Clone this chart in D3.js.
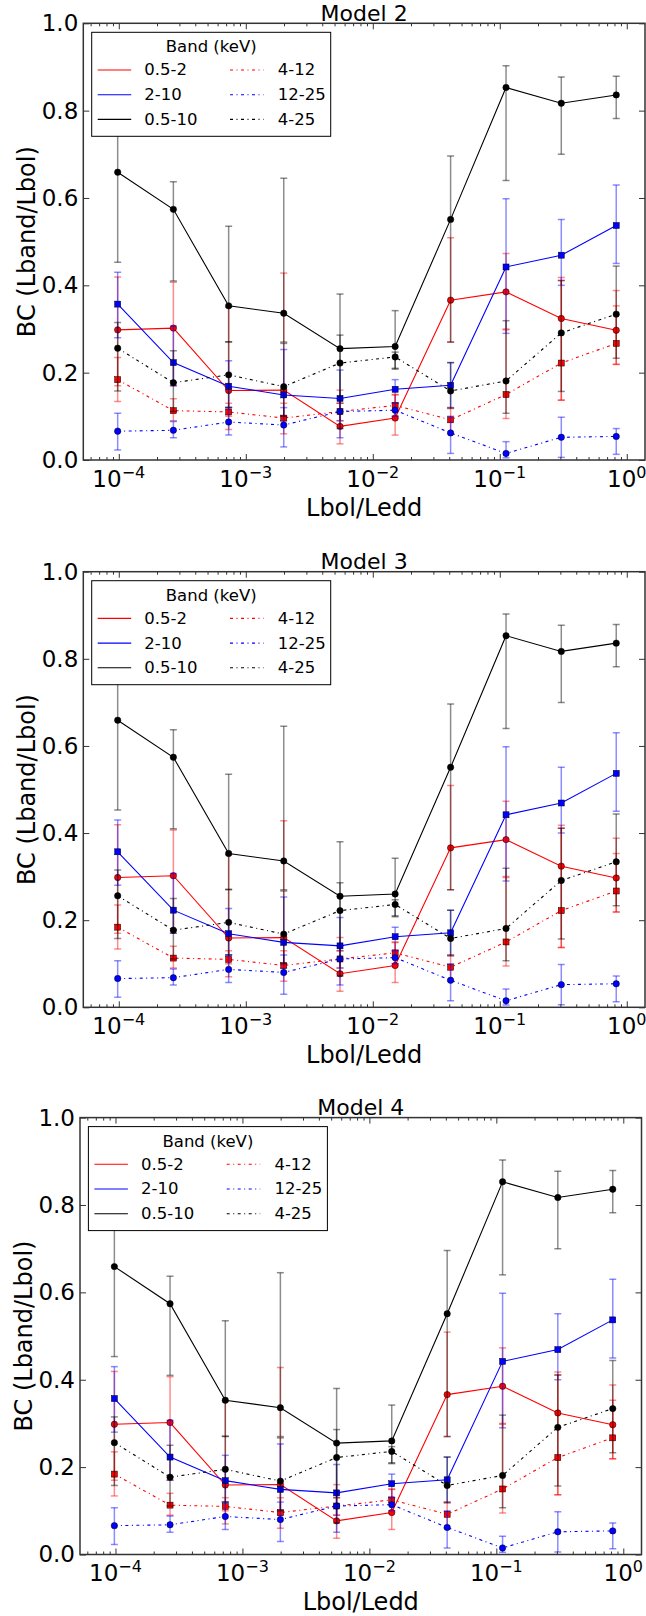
<!DOCTYPE html>
<html><head><meta charset="utf-8">
<script src="https://cdn.jsdelivr.net/npm/d3@7"></script>
<style>
body{margin:0;background:#fff}
svg{display:block}
text{font-family:"DejaVu Sans",sans-serif;fill:#000}
</style>
</head><body>
<svg id="c" width="646" height="1616"></svg>
<script>
// ---------------- data ----------------
const models = ["Model 2", "Model 3", "Model 4"];
const lbolLedd = [9.8e-5, 2.69e-4, 7.33e-4, 1.99e-3, 5.52e-3, 1.50e-2, 4.10e-2, 0.112, 0.305, 0.826];
const bandNames = ["0.5-2", "2-10", "0.5-10", "4-12", "12-25", "4-25"];
const legendTitle = "Band (keV)";
const yTicks = [0.0, 0.2, 0.4, 0.6, 0.8, 1.0];
const xTicks = [1e-4, 1e-3, 1e-2, 1e-1, 1];
const xTickExp = ["\u22124", "\u22123", "\u22122", "\u22121", "0"];
const xLabel = "Lbol/Ledd";
const yLabel = "BC (Lband/Lbol)";

const bc0502 = [0.298, 0.302, 0.159, 0.160, 0.077, 0.096, 0.366, 0.385, 0.324, 0.297];
const bc0502Lo = [0.170, 0.170, 0.100, 0.100, 0.037, 0.057, 0.270, 0.300, 0.137, 0.219];
const bc0502Hi = [0.419, 0.407, 0.350, 0.428, 0.160, 0.149, 0.509, 0.473, 0.418, 0.388];

const bc0210 = [0.357, 0.223, 0.169, 0.149, 0.141, 0.162, 0.171, 0.442, 0.469, 0.537];
const bc0210Lo = [0.280, 0.170, 0.120, 0.090, 0.090, 0.130, 0.120, 0.290, 0.400, 0.450];
const bc0210Hi = [0.430, 0.307, 0.227, 0.253, 0.206, 0.184, 0.223, 0.598, 0.551, 0.630];

const bc0510 = [0.659, 0.574, 0.353, 0.336, 0.255, 0.260, 0.551, 0.853, 0.817, 0.836];
const bc0510Lo = [0.453, 0.410, 0.270, 0.270, 0.130, 0.210, 0.270, 0.640, 0.700, 0.782];
const bc0510Hi = [0.865, 0.637, 0.535, 0.645, 0.380, 0.342, 0.696, 0.903, 0.877, 0.879];

const bc0412 = [0.184, 0.113, 0.110, 0.096, 0.111, 0.125, 0.092, 0.150, 0.222, 0.267];
const bc0412Lo = [0.134, 0.090, 0.070, 0.060, 0.090, 0.100, 0.060, 0.095, 0.137, 0.219];
const bc0412Hi = [0.235, 0.140, 0.130, 0.130, 0.130, 0.150, 0.120, 0.298, 0.411, 0.353];

const bc1225 = [0.066, 0.068, 0.087, 0.080, 0.111, 0.114, 0.062, 0.015, 0.052, 0.054];
const bc1225Lo = [0.023, 0.051, 0.057, 0.030, 0.051, 0.100, 0.015, 0.005, 0.006, 0.013];
const bc1225Hi = [0.107, 0.088, 0.120, 0.120, 0.140, 0.130, 0.100, 0.042, 0.098, 0.072];

const bc0425 = [0.256, 0.177, 0.195, 0.168, 0.222, 0.236, 0.158, 0.181, 0.291, 0.334];
const bc0425Lo = [0.158, 0.111, 0.120, 0.100, 0.072, 0.208, 0.118, 0.107, 0.157, 0.233];
const bc0425Hi = [0.315, 0.250, 0.271, 0.267, 0.286, 0.247, 0.223, 0.319, 0.411, 0.444];

// ---------------- styles ----------------
const DASHDOT = "3,3.5,1,3.5";
const series = [
  {name: bandNames[0], v: bc0502, lo: bc0502Lo, hi: bc0502Hi, color: "#ff0000", dash: null, marker: "circle"},
  {name: bandNames[1], v: bc0210, lo: bc0210Lo, hi: bc0210Hi, color: "#0000ff", dash: null, marker: "square"},
  {name: bandNames[2], v: bc0510, lo: bc0510Lo, hi: bc0510Hi, color: "#000000", dash: null, marker: "circle"},
  {name: bandNames[3], v: bc0412, lo: bc0412Lo, hi: bc0412Hi, color: "#ff0000", dash: DASHDOT, marker: "square"},
  {name: bandNames[4], v: bc1225, lo: bc1225Lo, hi: bc1225Hi, color: "#0000ff", dash: DASHDOT, marker: "circle"},
  {name: bandNames[5], v: bc0425, lo: bc0425Lo, hi: bc0425Hi, color: "#000000", dash: DASHDOT, marker: "circle"}
];

const panels = [
  {left: 83.3, top: 23.3, width: 561.7, height: 436.7, ylabX: 27},
  {left: 83.3, top: 571.7, width: 561.7, height: 435.6, ylabX: 27},
  {left: 80.0, top: 1117.6, width: 561.5, height: 436.9, ylabX: 24}
];

const svg = d3.select("#c");
const xDomain = [Math.pow(10, -4.2795), Math.pow(10, 0.1435)];

function minorTicks() {
  const out = [];
  for (let d = -5; d <= 0; d++) for (let k = 2; k <= 9; k++) {
    const v = k * Math.pow(10, d);
    if (v > xDomain[0] && v < xDomain[1]) out.push(v);
  }
  return out;
}

function drawPanel(p, title) {
  const W = p.width, H = p.height;
  const g = svg.append("g").attr("transform", `translate(${p.left},${p.top})`);
  const x = d3.scaleLog().domain(xDomain).range([0, W]);
  const y = d3.scaleLinear().domain([0, 1]).range([H, 0]);

  const clipId = "clip" + Math.round(p.top);
  g.append("clipPath").attr("id", clipId).append("rect").attr("width", W).attr("height", H);
  const plot = g.append("g").attr("clip-path", `url(#${clipId})`);

  series.forEach(s => {
    const pts = lbolLedd.map((xv, i) => ({x: xv, v: s.v[i], lo: s.lo[i], hi: s.hi[i]}));
    const eb = plot.append("g").attr("stroke", s.color).attr("stroke-opacity", 0.45).attr("stroke-width", 1.5);
    pts.forEach(d => {
      const cx = x(d.x);
      eb.append("line").attr("x1", cx).attr("x2", cx).attr("y1", y(d.lo)).attr("y2", y(d.hi));
      eb.append("line").attr("x1", cx - 3.5).attr("x2", cx + 3.5).attr("y1", y(d.lo)).attr("y2", y(d.lo));
      eb.append("line").attr("x1", cx - 3.5).attr("x2", cx + 3.5).attr("y1", y(d.hi)).attr("y2", y(d.hi));
    });
    const line = d3.line().x(d => x(d.x)).y(d => y(d.v));
    plot.append("path").datum(pts).attr("d", line).attr("fill", "none")
      .attr("stroke", s.color).attr("stroke-width", 1.1)
      .attr("stroke-dasharray", s.dash);
    const mk = plot.append("g").attr("fill", s.color).attr("stroke", "#000").attr("stroke-width", 0.5);
    if (s.marker === "circle") {
      mk.selectAll("circle").data(pts).join("circle")
        .attr("cx", d => x(d.x)).attr("cy", d => y(d.v)).attr("r", 3.2);
    } else {
      mk.selectAll("rect").data(pts).join("rect")
        .attr("x", d => x(d.x) - 3).attr("y", d => y(d.v) - 3)
        .attr("width", 6).attr("height", 6);
    }
  });

  const tickStyle = sel => {
    sel.select(".domain").remove();
    sel.selectAll("line").attr("stroke", "#333").attr("stroke-width", 1);
    sel.selectAll("text").remove();
  };
  const minors = minorTicks();
  g.append("g").attr("transform", `translate(0,${H})`)
    .call(d3.axisBottom(x).tickValues(xTicks).tickSize(-6).tickFormat("")).call(tickStyle);
  g.append("g").attr("transform", `translate(0,${H})`)
    .call(d3.axisBottom(x).tickValues(minors).tickSize(-3).tickFormat("")).call(tickStyle);
  g.append("g")
    .call(d3.axisTop(x).tickValues(xTicks).tickSize(-6).tickFormat("")).call(tickStyle);
  g.append("g")
    .call(d3.axisTop(x).tickValues(minors).tickSize(-3).tickFormat("")).call(tickStyle);
  g.append("g")
    .call(d3.axisLeft(y).tickValues(yTicks).tickSize(-6).tickFormat("")).call(tickStyle);
  g.append("g").attr("transform", `translate(${W},0)`)
    .call(d3.axisRight(y).tickValues(yTicks).tickSize(-6).tickFormat("")).call(tickStyle);

  g.append("rect").attr("width", W).attr("height", H)
    .attr("fill", "none").attr("stroke", "#333").attr("stroke-width", 1.5);

  yTicks.forEach(t => {
    g.append("text").attr("x", -5).attr("y", y(t)).attr("text-anchor", "end")
      .attr("dominant-baseline", "central").attr("font-size", 23).text(t.toFixed(1));
  });
  xTicks.forEach((t, i) => {
    const tx = g.append("text").attr("x", x(t)).attr("y", H + 27).attr("text-anchor", "middle")
      .attr("font-size", 23);
    tx.append("tspan").text("10");
    tx.append("tspan").attr("dy", -9).attr("font-size", 16).text(xTickExp[i]);
  });
  g.append("text").attr("x", W / 2).attr("y", H + 56).attr("text-anchor", "middle")
    .attr("font-size", 24).text(xLabel);
  g.append("text").attr("transform", `translate(${p.ylabX - p.left},${H / 2}) rotate(-90)`)
    .attr("text-anchor", "middle").attr("dominant-baseline", "central")
    .attr("font-size", 24).text(yLabel);
  g.append("text").attr("x", W / 2).attr("y", -2.5).attr("text-anchor", "middle")
    .attr("font-size", 22).text(title);

  const lg = g.append("g").attr("transform", "translate(8.4,9)");
  lg.append("rect").attr("width", 239).attr("height", 104)
    .attr("fill", "#fff").attr("stroke", "#000").attr("stroke-width", 1);
  lg.append("text").attr("x", 119.5).attr("y", 20).attr("text-anchor", "middle")
    .attr("font-size", 16.5).text(legendTitle);
  series.forEach((s, i) => {
    const col = Math.floor(i / 3), row = i % 3;
    const hx = col === 0 ? 6 : 138.3;
    const tx = col === 0 ? 52.6 : 186;
    const cy = 37.7 + row * 24.7;
    lg.append("line").attr("x1", hx).attr("x2", hx + 33.5).attr("y1", cy).attr("y2", cy)
      .attr("stroke", s.color).attr("stroke-width", 1.1).attr("stroke-dasharray", s.dash);
    lg.append("text").attr("x", tx).attr("y", cy).attr("dominant-baseline", "central")
      .attr("font-size", 16.5).text(s.name);
  });
}

panels.forEach((p, i) => drawPanel(p, models[i]));
</script>
</body></html>
